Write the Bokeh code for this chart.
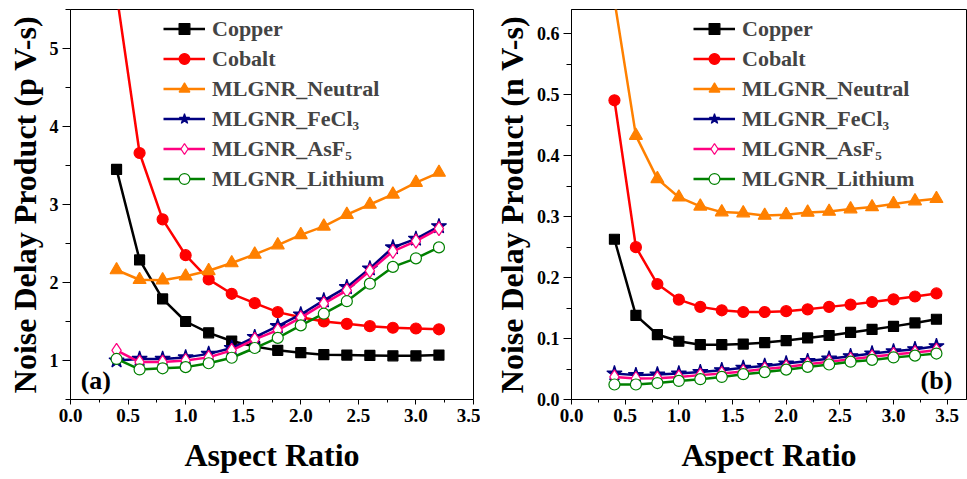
from bokeh.plotting import figure
from bokeh.layouts import row
from bokeh.models import (Range1d, FixedTicker, Legend, LegendItem, Label,
                          CustomJSTickFormatter)
from bokeh.embed import file_html
from bokeh.resources import INLINE

# ---------------- data ----------------
x_a = [0.4, 0.6, 0.8, 1.0, 1.2, 1.4, 1.6, 1.8, 2.0, 2.2, 2.4, 2.6, 2.8, 3.0, 3.2]
copper_a = [3.45, 2.29, 1.79, 1.50, 1.355, 1.25, 1.18, 1.13, 1.10, 1.075, 1.07, 1.065, 1.06, 1.06, 1.07]
cobalt_a = [5.7, 3.66, 2.81, 2.35, 2.04, 1.855, 1.735, 1.62, 1.555, 1.50, 1.47, 1.44, 1.42, 1.41, 1.40]
neutral_a = [2.16, 2.035, 2.03, 2.08, 2.15, 2.25, 2.36, 2.48, 2.61, 2.72, 2.87, 3.00, 3.13, 3.28, 3.41]
fecl3_a = [1.0, 1.02, 1.02, 1.04, 1.085, 1.16, 1.30, 1.44, 1.59, 1.77, 1.94, 2.18, 2.45, 2.56, 2.72]
asf5_a = [1.13, 0.98, 0.98, 1.0, 1.04, 1.13, 1.27, 1.39, 1.55, 1.73, 1.90, 2.15, 2.40, 2.53, 2.69]
lithium_a = [1.02, 0.885, 0.90, 0.915, 0.965, 1.035, 1.16, 1.29, 1.45, 1.60, 1.76, 1.985, 2.20, 2.31, 2.45]

x_b = [0.4, 0.6, 0.8, 1.0, 1.2, 1.4, 1.6, 1.8, 2.0, 2.2, 2.4, 2.6, 2.8, 3.0, 3.2, 3.4]
copper_b = [0.263, 0.138, 0.1066, 0.0956, 0.090, 0.090, 0.091, 0.0934, 0.0967, 0.101, 0.105, 0.110, 0.115, 0.120, 0.1256, 0.1317]
cobalt_b = [0.491, 0.250, 0.1895, 0.164, 0.152, 0.1464, 0.1436, 0.1436, 0.145, 0.148, 0.152, 0.1557, 0.160, 0.1644, 0.169, 0.174]
neutral_b = [0.655, 0.433, 0.362, 0.332, 0.317, 0.3075, 0.306, 0.302, 0.303, 0.307, 0.3085, 0.3125, 0.316, 0.321, 0.3256, 0.3295]
fecl3_b = [0.0426, 0.040, 0.041, 0.0426, 0.045, 0.048, 0.052, 0.055, 0.059, 0.063, 0.067, 0.071, 0.0754, 0.079, 0.0825, 0.0874]
asf5_b = [0.037, 0.0344, 0.035, 0.037, 0.040, 0.0426, 0.046, 0.050, 0.0535, 0.058, 0.062, 0.066, 0.070, 0.074, 0.077, 0.081]
lithium_b = [0.0246, 0.0246, 0.027, 0.0305, 0.0333, 0.037, 0.0415, 0.045, 0.049, 0.0535, 0.0574, 0.062, 0.065, 0.069, 0.072, 0.0754]

series_names = ["Copper", "Cobalt", "MLGNR_Neutral", "MLGNR_FeCl\u2083", "MLGNR_AsF\u2085", "MLGNR_Lithium"]

x_ticks = [0.0, 0.5, 1.0, 1.5, 2.0, 2.5, 3.0, 3.5]
x_minor = [0.25, 0.75, 1.25, 1.75, 2.25, 2.75, 3.25]
ya_ticks = [1, 2, 3, 4, 5]
ya_minor = [0.5, 1.5, 2.5, 3.5, 4.5, 5.5]
yb_ticks = [0.0, 0.1, 0.2, 0.3, 0.4, 0.5, 0.6]
yb_minor = [0.05, 0.15, 0.25, 0.35, 0.45, 0.55]

FONT = "Liberation Serif"

styles = [
    dict(marker="square", color="#000000", fill="#000000", size=10),
    dict(marker="circle", color="#FF0000", fill="#FF0000", size=11),
    dict(marker="triangle", color="#FF8000", fill="#FF8000", size=13),
    dict(marker="star", color="#000080", fill="#000080", size=16),
    dict(marker="diamond", color="#FF0080", fill="#FFFFFF", size=14),
    dict(marker="circle", color="#008000", fill="#FFFFFF", size=11),
]


def make_panel(xs, ys_list, xr, yr, yt, ym, ylabel, yfmt, width, bl, br, leg_x, tag, tag_x, tag_y):
    p = figure(width=width, height=479, output_backend="svg", toolbar_location=None,
               x_range=Range1d(*xr), y_range=Range1d(*yr),
               min_border_left=bl, min_border_right=br, min_border_top=9, min_border_bottom=80)
    p.grid.visible = False
    p.outline_line_color = "black"
    p.outline_line_width = 1
    p.background_fill_color = "white"
    items = []
    for name, ys, st in zip(series_names, ys_list, styles):
        lr = p.line(xs, ys, line_color=st["color"], line_width=2.5)
        sr = p.scatter(xs, ys, marker=st["marker"], size=st["size"], line_color=st["color"],
                       fill_color=st["fill"], line_width=1.2)
        items.append(LegendItem(label=name, renderers=[lr, sr]))
    leg = Legend(items=items, location=(leg_x, 207), padding=0, margin=0, spacing=3,
                 glyph_width=42, glyph_height=27, label_standoff=7,
                 label_text_font=FONT, label_text_font_style="bold", label_text_font_size="22px",
                 border_line_alpha=0, background_fill_alpha=0)
    p.add_layout(leg)

    p.xaxis.ticker = FixedTicker(ticks=x_ticks, minor_ticks=x_minor)
    p.xaxis.formatter = CustomJSTickFormatter(code="return tick.toFixed(1);")
    p.yaxis.ticker = FixedTicker(ticks=yt, minor_ticks=ym)
    p.yaxis.formatter = CustomJSTickFormatter(code="return tick.toFixed(%d);" % yfmt)
    p.xaxis.axis_label = "Aspect Ratio"
    p.yaxis.axis_label = ylabel
    for ax in (p.xaxis[0], p.yaxis[0]):
        ax.axis_line_color = "black"
        ax.axis_line_width = 1
        ax.major_tick_line_color = "black"
        ax.minor_tick_line_color = "black"
        ax.major_tick_in = 0
        ax.minor_tick_in = 0
        ax.major_label_text_font = FONT
        ax.major_label_text_font_style = "bold"
        ax.major_label_text_color = "black"
        ax.axis_label_text_font = FONT
        ax.axis_label_text_font_style = "bold"
        ax.axis_label_text_font_size = "32px"
        ax.axis_label_text_color = "black"
        ax.major_label_standoff = 4
    p.xaxis.major_tick_out = 5
    p.xaxis.minor_tick_out = 3
    p.yaxis.major_tick_out = 8
    p.yaxis.minor_tick_out = 5
    p.xaxis.major_label_text_font_size = "19px"
    p.yaxis.major_label_text_font_size = "18px"
    p.xaxis.axis_label_standoff = 12
    p.yaxis.axis_label_standoff = 4

    p.add_layout(Label(x=tag_x, y=tag_y, text=tag, text_font=FONT, text_font_style="bold",
                       text_font_size="26px", text_align="center", text_baseline="middle",
                       text_color="black"))
    return p


pa = make_panel(x_a, [copper_a, cobalt_a, neutral_a, fecl3_a, asf5_a, lithium_a],
                (0, 3.5), (0.5, 5.5), ya_ticks, ya_minor,
                "Noise Delay Product (p V-s)", 0, 480, 70, 7, 93, "(a)", 0.22, 0.74)
pb = make_panel(x_b, [copper_b, cobalt_b, neutral_b, fecl3_b, asf5_b, lithium_b],
                (0, 3.68), (0, 0.64), yb_ticks, yb_minor,
                "Noise Delay Product (n V-s)", 1, 487, 91, 1, 122, "(b)", 3.40, 0.032)

layout = row(pa, pb)
open("out.html", "w").write(file_html(layout, INLINE))
